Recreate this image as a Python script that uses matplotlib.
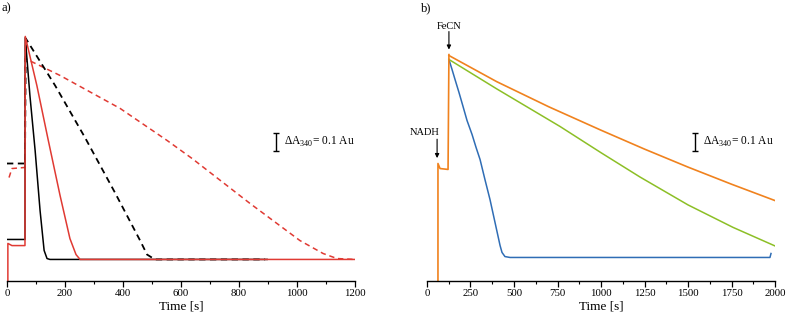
import matplotlib
matplotlib.use("Agg")
import matplotlib.pyplot as plt
from matplotlib.ticker import MultipleLocator

plt.rcParams['font.family'] = ['Liberation Serif', 'DejaVu Serif']
plt.rcParams['mathtext.fontset'] = 'custom'
plt.rcParams['mathtext.rm'] = 'Liberation Serif'

# ---------------- Panel a) data (time [s], absorbance [Au]) ----------------
a_black_t = [0, 62, 63, 79, 97, 114, 128, 138, 148, 897]
a_black_A = [0.228, 0.228, 1.35, 1.028, 0.722, 0.389, 0.167, 0.122, 0.117, 0.117]

a_red_t = [3, 3, 17, 62, 63, 103, 141, 183, 217, 238, 252, 1200]
a_red_A = [0.0, 0.206, 0.194, 0.194, 1.356, 1.083, 0.789, 0.472, 0.233, 0.144, 0.117, 0.117]

a_blackdash_t = [0, 62, 65, 166, 269, 372, 459, 483, 510, 890]
a_blackdash_A = [0.65, 0.65, 1.344, 1.083, 0.794, 0.489, 0.222, 0.144, 0.117, 0.117]

a_reddash_t = [7, 17, 62, 63, 183, 390, 552, 638, 838, 1010, 1090, 1138, 1200]
a_reddash_A = [0.572, 0.622, 0.628, 1.233, 1.139, 0.956, 0.778, 0.678, 0.428, 0.222, 0.15, 0.122, 0.117]

# ---------------- Panel b) data ----------------
b_pre_t = [63, 63, 75, 121, 126]
b_pre_A = [0.0, 0.65, 0.622, 0.617, 1.255]

b_orange_t = [126, 400, 700, 1000, 1250, 1500, 1750, 2000]
b_orange_A = [1.250, 1.105, 0.965, 0.835, 0.730, 0.630, 0.535, 0.444]

b_green_t = [126, 400, 764, 1000, 1224, 1500, 1759, 2000]
b_green_A = [1.228, 1.065, 0.856, 0.710, 0.575, 0.420, 0.295, 0.192]

b_blue_t = [126, 144, 161, 184, 207, 230, 259, 282, 305, 333, 362, 391, 420,
            431, 448, 477, 1971, 1977]
b_blue_A = [1.228, 1.172, 1.117, 1.044, 0.967, 0.889, 0.811, 0.739, 0.672, 0.561,
            0.450, 0.322, 0.194, 0.156, 0.133, 0.128, 0.128, 0.15]

a_ticks = [0, 200, 400, 600, 800, 1000, 1200]
b_ticks = [0, 250, 500, 750, 1000, 1250, 1500, 1750, 2000]

RED = '#e03a33'
BLUE = '#2f6db5'
GREEN = '#8cbf26'
ORANGE = '#f0821e'

W, H = 787, 321
fig = plt.figure(figsize=(W / 100, H / 100), dpi=100)
bottom = (H - 280.5) / H
ax1 = fig.add_axes([7 / W, bottom, 348 / W, 1 - bottom])
ax2 = fig.add_axes([427 / W, bottom, 348 / W, 1 - bottom])

ymax = 280.5 / 180.0

def style(ax, xmax, minor, ticks):
    ax.set_xlim(0, xmax)
    ax.set_ylim(0, ymax)
    for s in ['left', 'right', 'top']:
        ax.spines[s].set_visible(False)
    ax.spines['bottom'].set_linewidth(1.0)
    ax.set_yticks([])
    ax.set_xticks(ticks)
    ax.xaxis.set_minor_locator(MultipleLocator(minor))
    ax.tick_params(axis='x', which='major', length=4, width=0.9, direction='out',
                   labelsize=7.8, pad=2)
    ax.tick_params(axis='x', which='minor', length=2.5, width=0.8, direction='out')
    ax.set_xlabel('Time [s]', fontsize=9.5, labelpad=2)
    ax.patch.set_alpha(0)

# Panel a
ax1.plot(a_reddash_t, a_reddash_A, color=RED, lw=1.1, ls=(0, (3.5, 2.5)))
ax1.plot(a_blackdash_t, a_blackdash_A, color='black', lw=1.3, ls=(0, (3.5, 2.5)))
ax1.plot(a_black_t, a_black_A, color='black', lw=1.1)
ax1.plot(a_red_t, a_red_A, color=RED, lw=1.1)
style(ax1, 1200, 100, a_ticks)

# Panel b
ax2.plot(b_blue_t, b_blue_A, color=BLUE, lw=1.1)
ax2.plot(b_green_t, b_green_A, color=GREEN, lw=1.1)
ax2.plot(b_pre_t, b_pre_A, color=ORANGE, lw=1.2)
ax2.plot(b_orange_t, b_orange_A, color=ORANGE, lw=1.2)
style(ax2, 2000, 125, b_ticks)

# Scale bars
for ax, x0, y0 in [(ax1, 928, 0.717), (ax2, 1540, 0.722)]:
    ax.errorbar([x0], [y0 + 0.05], yerr=[[0.05], [0.05]], color='black',
                lw=1.0, capsize=2, capthick=1.0)
ax1.text(955, 0.767, r'$\Delta$A$_{340}$= 0.1 Au', fontsize=8.3, va='center', ha='left')
ax2.text(1586, 0.772, r'$\Delta$A$_{340}$= 0.1 Au', fontsize=8.3, va='center', ha='left')

# Annotations in panel b
arrow = dict(arrowstyle='-|>', color='black', lw=0.8, mutation_scale=6,
             shrinkA=0, shrinkB=0)
ax2.text(-11, 0.82, 'NADH', fontsize=7.5, ha='center', va='center')
ax2.annotate('', xy=(58, 0.68), xytext=(58, 0.785), arrowprops=arrow)
ax2.text(126, 1.41, 'FeCN', fontsize=7.5, ha='center', va='center')
ax2.annotate('', xy=(126, 1.283), xytext=(126, 1.383), arrowprops=arrow)

fig.text(2 / W, 1 - 8 / H, 'a)', fontsize=9, va='center', ha='left')
fig.text(421 / W, 1 - 8 / H, 'b)', fontsize=9, va='center', ha='left')

fig.savefig('out.png', dpi=100)
